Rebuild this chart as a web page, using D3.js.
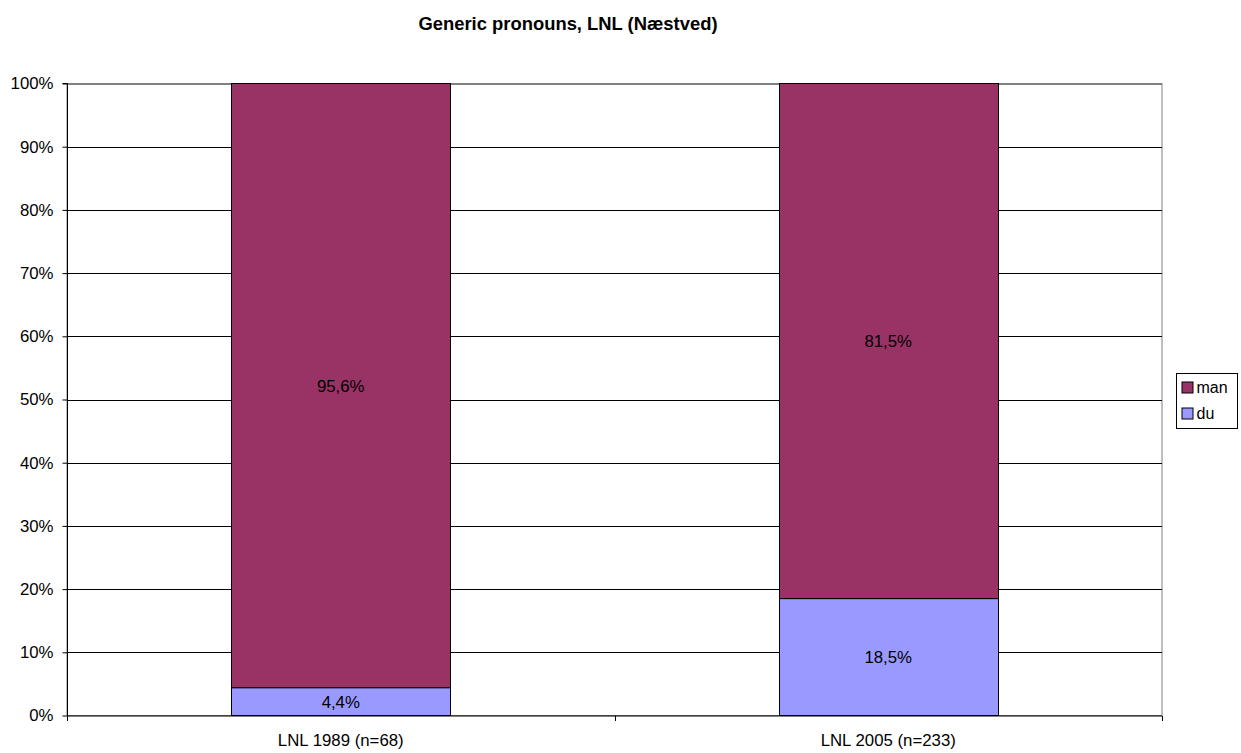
<!DOCTYPE html>
<html><head><meta charset="utf-8">
<script src="https://cdn.jsdelivr.net/npm/d3@7"></script>
<style>body{margin:0;background:#fff}text{font-family:"Liberation Sans",Arial,sans-serif}</style>
</head><body><svg id="c" width="1241" height="753"></svg>
<script>
const categories = ["LNL 1989 (n=68)", "LNL 2005 (n=233)"];
const seriesNames = ["du", "man"];
const du = [4.4, 18.5];
const man = [95.6, 81.5];
const yTicks = [0,10,20,30,40,50,60,70,80,90,100];
const colors = {man:"#993366", du:"#9999FF"};
const title = "Generic pronouns, LNL (Næstved)";

const svg = d3.select("#c");
const L=67, R=1162, T=83.5, B=715.5;
const FS = 16.8;
const x = d3.scaleBand().domain(categories).range([L,R]).paddingInner(0.6).paddingOuter(0.3);
const xb = d3.scaleBand().domain(categories).range([L,R]);
const y = d3.scaleLinear().domain([0,100]).range([B,T]);

svg.append("text").attr("x",568).attr("y",30).attr("text-anchor","middle")
  .attr("font-weight","bold").attr("font-size",18.4).text(title);

// plot border
svg.append("rect").attr("x",L).attr("y",T).attr("width",R-L).attr("height",B-T)
  .attr("fill","#fff").attr("stroke","#808080").attr("stroke-width",1);

// gridlines
svg.append("g").selectAll("line").data(yTicks.filter(d=>d>0)).join("line")
  .attr("x1",L).attr("x2",R).attr("y1",d=>Math.round(y(d))+0.5).attr("y2",d=>Math.round(y(d))+0.5)
  .attr("stroke",d=>d===100?"#808080":"#000").attr("stroke-width",1);

// stacked data
const rows = categories.map((c,i)=>({cat:c, du:du[i], man:man[i]}));
const stack = d3.stack().keys(seriesNames)(rows);
svg.append("g").selectAll("g").data(stack).join("g").attr("fill",d=>colors[d.key])
  .selectAll("rect").data(d=>d).join("rect")
  .attr("x",d=>Math.round(x(d.data.cat))+0.5).attr("width",Math.round(x.bandwidth()))
  .attr("y",d=>y(d[1])).attr("height",d=>y(d[0])-y(d[1]))
  .attr("stroke","#000").attr("stroke-width",1);

// labels
stack.forEach(s=>{
  svg.append("g").selectAll("text").data(s).join("text")
    .attr("x",d=>x(d.data.cat)+x.bandwidth()/2).attr("y",d=>y((d[0]+d[1])/2)+6)
    .attr("text-anchor","middle").attr("font-size",FS)
    .text(d=>(d[1]-d[0]).toFixed(1).replace(".",",")+"%");
});

// y axis
const ya = d3.axisLeft(y).tickValues(yTicks).tickSize(5).tickPadding(9).tickFormat(d=>d+"%");
const gy = svg.append("g").attr("transform",`translate(${L+0.5},0)`).call(ya);
gy.selectAll("text").attr("font-size",FS).attr("fill","#000").attr("font-family",null);
gy.selectAll("line").attr("stroke","#000");
gy.select(".domain").attr("stroke","#000").attr("d",`M-5,${T}H0V${B}`);

// x axis
const gx = svg.append("g").attr("transform",`translate(0,${B+0.5})`);
gx.append("line").attr("x1",L).attr("x2",R).attr("stroke","#000");
const bounds = [L, ...categories.slice(1).map(c=>xb(c)), R];
gx.selectAll("line.t").data(bounds).join("line").attr("class","t")
  .attr("x1",d=>Math.round(d)+0.5).attr("x2",d=>Math.round(d)+0.5).attr("y1",0).attr("y2",5).attr("stroke","#000");
gx.selectAll("text").data(categories).join("text")
  .attr("x",d=>xb(d)+xb.bandwidth()/2).attr("y",30).attr("text-anchor","middle").attr("font-size",FS).text(d=>d);

// legend
const lg = svg.append("g").attr("transform","translate(1176.5,373.5)");
lg.append("rect").attr("width",61).attr("height",55).attr("fill","#fff").attr("stroke","#000");
["man","du"].forEach((k,i)=>{
  lg.append("rect").attr("x",5.5).attr("y",8.5+i*26).attr("width",11).attr("height",11).attr("fill",colors[k]).attr("stroke","#000");
  lg.append("text").attr("x",20).attr("y",19.5+i*26).attr("font-size",16).text(k);
});
</script></body></html>
